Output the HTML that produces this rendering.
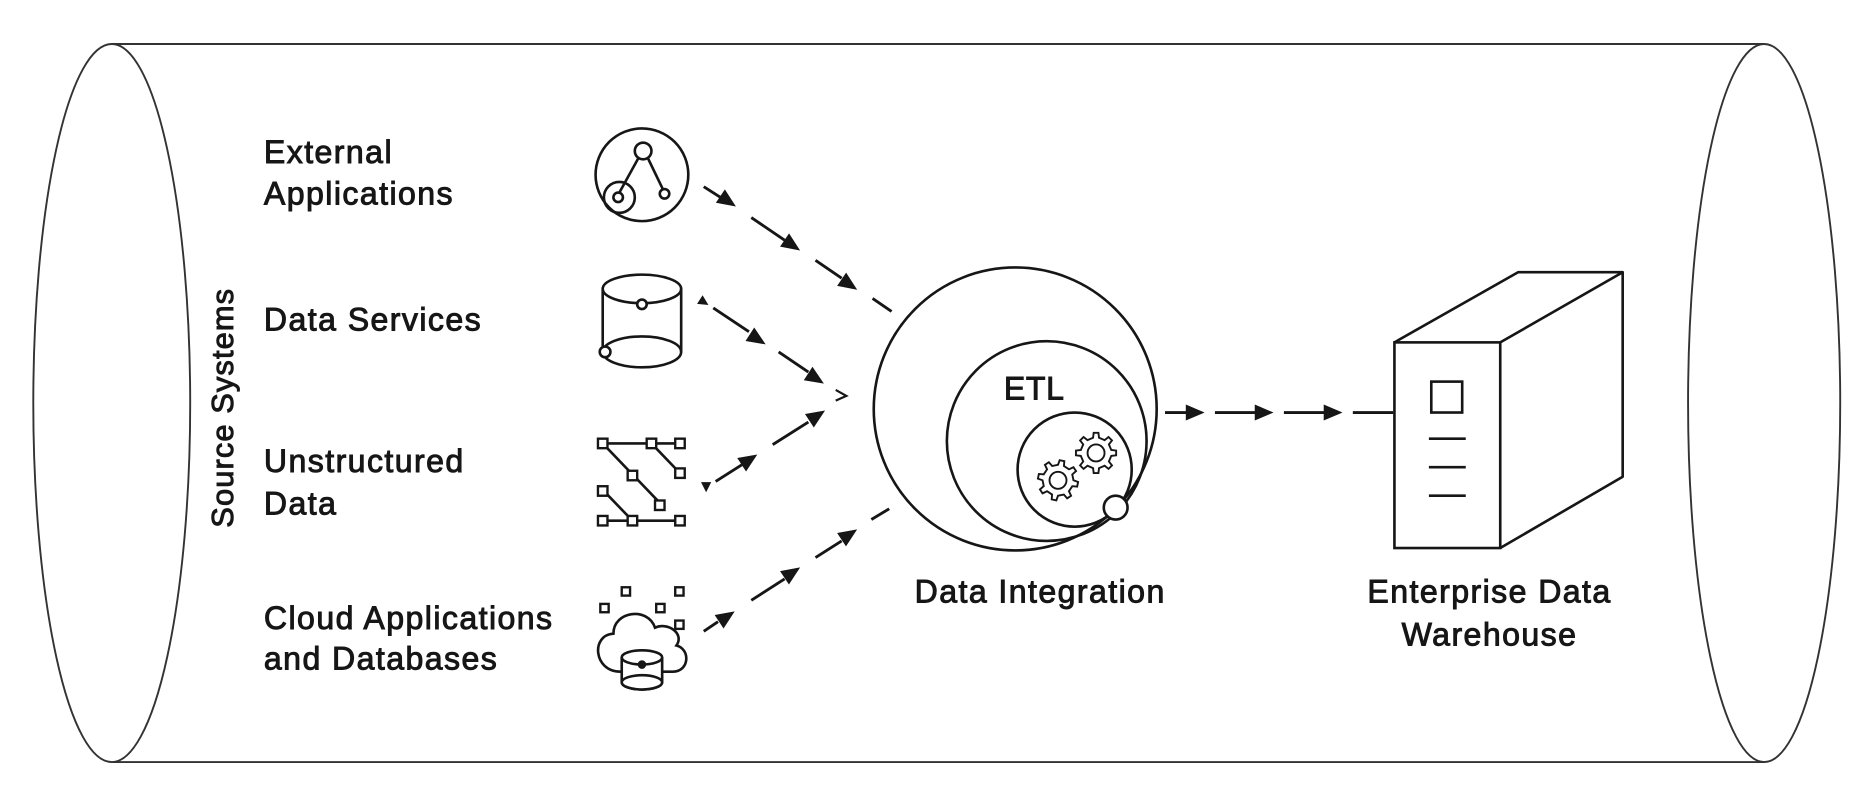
<!DOCTYPE html>
<html><head><meta charset="utf-8"><style>
html,body{margin:0;padding:0;background:#fff;}
svg{display:block;}
text{font-family:"Liberation Sans",sans-serif;fill:#161616;stroke:#161616;stroke-width:0.8;}
</style></head><body>
<svg id="s" width="1864" height="787" viewBox="0 0 1568 662" xmlns="http://www.w3.org/2000/svg">
<rect width="1568" height="662" fill="#fff"/>
<g fill="none" stroke="#333" stroke-width="1.6">
<line x1="94" y1="37" x2="1484" y2="37"/>
<line x1="94" y1="641" x2="1484" y2="641"/>
<ellipse cx="94" cy="339" rx="66" ry="302" fill="#fff"/>
<ellipse cx="1484" cy="339" rx="64" ry="302" fill="#fff"/>
</g>
<text transform="translate(196,343) rotate(-90)" text-anchor="middle" font-size="26" letter-spacing="0.9">Source Systems</text>
<g font-size="27" letter-spacing="1.2">
<text x="222" y="137">External</text>
<text x="222" y="172">Applications</text>
<text x="222" y="278">Data Services</text>
<text x="222" y="397">Unstructured</text>
<text x="222" y="433">Data</text>
<text x="222" y="529">Cloud Applications</text>
<text x="222" y="563">and Databases</text>
<text x="875" y="507" text-anchor="middle">Data Integration</text>
<text x="1253" y="507" text-anchor="middle">Enterprise Data</text>
<text x="1253" y="543" text-anchor="middle">Warehouse</text>
<text x="870" y="336" text-anchor="middle" font-size="27" letter-spacing="0.5">ETL</text>
</g>
<g fill="none" stroke="#161616" stroke-width="2.2">
<circle cx="540" cy="147" r="39"/>
<circle cx="541" cy="127" r="7" fill="#fff"/>
<line x1="537" y1="133" x2="521" y2="162"/><line x1="545" y1="133" x2="558" y2="160"/>
<circle cx="521" cy="166" r="13"/><circle cx="520" cy="166" r="4"/><circle cx="559" cy="163" r="4" fill="#fff"/>
<ellipse cx="540" cy="243" rx="33" ry="12"/>
<ellipse cx="540" cy="296" rx="33" ry="13"/>
<line x1="507" y1="243" x2="507" y2="296"/><line x1="573" y1="243" x2="573" y2="296"/>
<circle cx="540" cy="256" r="4" fill="#fff"/><circle cx="509" cy="296" r="4.5" fill="#fff"/>
<line x1="507" y1="373" x2="572" y2="373"/><line x1="507" y1="438" x2="572" y2="438"/>
<line x1="507" y1="373" x2="556" y2="424"/><line x1="548" y1="373" x2="572" y2="398"/>
<line x1="507" y1="412" x2="532" y2="438"/>
<g fill="#fff" stroke-width="2">
<rect x="503" y="369" width="8" height="8"/><rect x="544" y="369" width="8" height="8"/><rect x="568" y="369" width="8" height="8"/>
<rect x="568" y="394" width="8" height="8"/><rect x="528" y="396" width="8" height="8"/><rect x="503" y="409" width="8" height="8"/>
<rect x="551" y="421" width="8" height="8"/><rect x="503" y="434" width="8" height="8"/><rect x="528" y="434" width="8" height="8"/><rect x="568" y="434" width="8" height="8"/>
</g>
<g stroke-width="2"><rect x="523" y="494" width="7" height="7"/><rect x="568" y="494" width="7" height="7"/><rect x="505" y="508" width="7" height="7"/><rect x="552" y="508" width="7" height="7"/><rect x="568" y="522" width="7" height="7"/></g>
<path d="M522 565 C499 565 497 534 516 533 C516 514 545 510 551 528 C562 523 576 533 569 543 C581 546 580 565 566 565 Z"/>
<g fill="#fff"><path d="M523 553 L523 574 A17 6 0 0 0 557 574 L557 553"/><ellipse cx="540" cy="553" rx="17" ry="6"/><ellipse cx="540" cy="574" rx="17" ry="6"/></g>
<circle cx="540" cy="559" r="2.5" fill="#161616"/>
<circle cx="854" cy="344" r="119"/>
<circle cx="880.5" cy="371" r="84"/>
<circle cx="904" cy="395" r="48"/>
<circle cx="938.5" cy="427" r="10" fill="#fff"/>
<g id="gears" stroke-width="1.6"></g>
<rect x="1173" y="288" width="89" height="173" fill="#fff"/>
<path d="M1173 288 L1277 229 L1365 229 L1262 288 M1365 229 L1365 401 L1262 461" stroke-linejoin="round"/>
<rect x="1204" y="321" width="26" height="26"/>
<line x1="1202" y1="369" x2="1233" y2="369"/><line x1="1202" y1="393" x2="1233" y2="393"/><line x1="1202" y1="417" x2="1233" y2="417"/>
</g>
<g id="arr" stroke="#161616" stroke-width="2.4" fill="#161616"></g>
</svg>
<script>
var NS="http://www.w3.org/2000/svg";
function el(p,t,a){var e=document.createElementNS(NS,t);for(var k in a)e.setAttribute(k,a[k]);p.appendChild(e);return e;}
var A=document.getElementById('arr');
function head(x,y,dx,dy,L,W){var l=Math.hypot(dx,dy);dx/=l;dy/=l;var bx=x-L*dx,by=y-L*dy;
el(A,'polygon',{points:x+','+y+' '+(bx-W*dy)+','+(by+W*dx)+' '+(bx+W*dy)+','+(by-W*dx),'stroke-width':'1'});}
function seg(a,b,c,d){el(A,'line',{x1:a,y1:b,x2:c,y2:d});}
var d1=[0.83,0.56];
seg(592,157,606,166);head(618,173,d1[0],d1[1],14,6);
seg(632,183,660,202);head(672,210,d1[0],d1[1],14,6);
seg(686,219,708,234);head(720,243,d1[0],d1[1],14,6);
seg(734,251,750,262);
var d2=[0.84,0.54];
head(595,256,d2[0],d2[1],7,3.5);
seg(600,259,630,279);head(643,289,d2[0],d2[1],14,6);
seg(655,296,680,313);head(692,322,d2[0],d2[1],14,6);
el(A,'polyline',{points:'703,328 712,333 703,337',fill:'none','stroke-width':'1.8'});
var d3=[0.84,-0.55];
head(594,413,0,1,7,3.5);
seg(602,405,624,391);head(636,383,d3[0],d3[1],14,6);
seg(650,374,680,355);head(693,346,d3[0],d3[1],14,6);
var d4=[0.83,-0.55];
seg(592,531,604,523);head(617,515,d4[0],d4[1],14,6);
seg(632,505,660,487);head(672,478,d4[0],d4[1],14,6);
seg(686,469,708,455);head(720,446,d4[0],d4[1],14,6);
seg(733,437,748,428);
seg(980,347,998,347);head(1012,347,1,0,14,6);
seg(1022,347,1056,347);head(1070,347,1,0,14,6);
seg(1080,347,1114,347);head(1128,347,1,0,14,6);
seg(1138,347,1172,347);
var G=document.getElementById('gears');
function gear(cx,cy,R,r,n,rot){var p=[];for(var i=0;i<n;i++){var a0=rot+i*2*Math.PI/n,s=Math.PI/n;
var pts=[[a0-s*0.5,r],[a0-s*0.3,R],[a0+s*0.3,R],[a0+s*0.5,r],[a0+s*1.5,r]];
pts.forEach(function(q){p.push((cx+q[1]*Math.cos(q[0])).toFixed(1)+','+(cy+q[1]*Math.sin(q[0])).toFixed(1));});}
el(G,'polygon',{points:p.join(' '),fill:'#fff'});el(G,'circle',{cx:cx,cy:cy,r:R*0.42});}
gear(890,404,17,13,8,0.2);gear(922,381,17,13,8,0);
</script>
</body></html>
